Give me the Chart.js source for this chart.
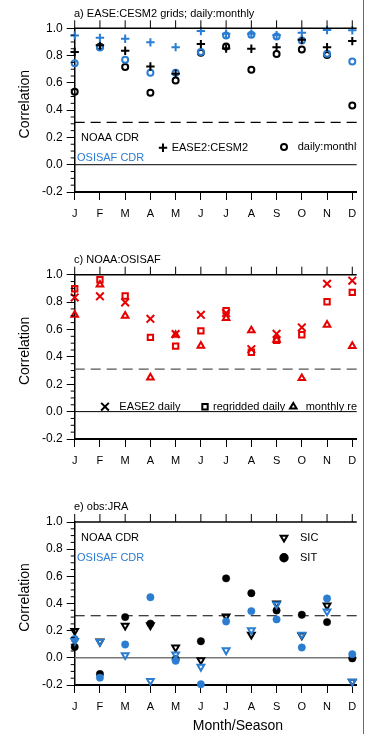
<!DOCTYPE html>
<html>
<head>
<meta charset="utf-8">
<script src="https://cdn.jsdelivr.net/npm/chart.js@4.4.1/dist/chart.umd.min.js"></script>
<style>
  html, body { margin: 0; padding: 0; background: #fff; }
  #wrap { position: relative; width: 367px; height: 734px; overflow: hidden; background: #fff; }
  #wrap canvas { position: absolute; left: 0; }
  #edge { position: absolute; left: 363px; top: 0; width: 1px; height: 734px; background: #dc3c32; }
</style>
</head>
<body>
<div id="wrap">
  <canvas id="panelA" width="367" height="245" style="top:0px"></canvas>
  <canvas id="panelC" width="367" height="245" style="top:245px"></canvas>
  <canvas id="panelE" width="367" height="244" style="top:490px"></canvas>
  <div id="edge"></div>
</div>
<script>
// ---- shared axes ----
const months = ['J', 'F', 'M', 'A', 'M', 'J', 'J', 'A', 'S', 'O', 'N', 'D'];
const yTicks = [-0.2, 0.0, 0.2, 0.4, 0.6, 0.8, 1.0];
const sigLevel = 0.31;

// ---- a) EASE:CESM2 grids; daily:monthly ----
const noaaEaseCesm      = [0.826, 0.875, 0.835, 0.720, 0.667, 0.884, 0.852, 0.850, 0.862, 0.916, 0.862, 0.906];
const osisafEaseCesm    = [0.948, 0.930, 0.923, 0.897, 0.862, 0.980, 0.960, 0.960, 0.950, 0.967, 0.987, 0.985];
const noaaDailyMonthly  = [0.535, 0.865, 0.716, 0.527, 0.618, 0.820, 0.867, 0.696, 0.811, 0.845, 0.805, 0.435];
const osisafDailyMonthly= [0.743, 0.860, 0.770, 0.674, 0.674, 0.826, 0.948, 0.952, 0.940, 0.911, 0.813, 0.757];

// ---- c) NOAA:OSISAF ----
const ease2Daily        = [0.834, 0.842, 0.798, 0.678, 0.566, 0.707, 0.720, 0.456, 0.568, 0.615, 0.934, 0.956];
const regriddedDaily    = [0.897, 0.963, 0.844, 0.542, 0.478, 0.590, 0.737, 0.434, 0.520, 0.561, 0.802, 0.871];
const monthlyRegridded  = [0.707, 0.927, 0.700, 0.249, 0.560, 0.480, 0.683, 0.593, 0.525, 0.244, 0.634, 0.478];

// ---- e) obs:JRA ----
const noaaSIC   = [0.198, 0.120, 0.237, 0.240, 0.076, -0.017, 0.305, 0.171, 0.400, 0.165, 0.385, -0.175];
const noaaSIT   = [0.080, -0.119, 0.300, 0.252, -0.010, 0.122, 0.585, 0.476, 0.349, 0.317, 0.263, -0.004];
const osisafSIC = [0.125, 0.117, 0.020, -0.170, 0.025, -0.066, 0.056, 0.203, 0.393, 0.171, 0.342, -0.175];
const osisafSIT = [0.139, -0.146, 0.098, 0.446, -0.022, -0.195, 0.268, 0.344, 0.283, 0.076, 0.437, 0.027];

const BLACK = '#000000';
const BLUE = '#2a7dd1';
const RED = '#e60000';
const FONT = "'Liberation Sans', Arial, Helvetica, sans-serif";
Chart.defaults.font.family = FONT;

const pts = arr => arr.map((v, i) => ({ x: i, y: v }));

function series(label, arr, color, style, radius, opts = {}) {
  return Object.assign({
    label,
    data: pts(arr),
    showLine: false,
    pointStyle: style,
    pointRadius: radius,
    pointHoverRadius: radius,
    pointBorderWidth: 2,
    pointBorderColor: color,
    pointBackgroundColor: 'rgba(0,0,0,0)',
    clip: false
  }, opts);
}

function hline(ctx, x0, x1, y) {
  ctx.beginPath(); ctx.moveTo(x0, y); ctx.lineTo(x1, y); ctx.stroke();
}

function text(ctx, str, x, y, size, color, align = 'left') {
  ctx.font = size + 'px ' + FONT;
  ctx.fillStyle = color;
  ctx.textAlign = align;
  ctx.textBaseline = 'middle';
  ctx.fillText(str, x, y);
}

function marker(ctx, style, x, y, radius, color, filled, rotation = 0) {
  ctx.save();
  ctx.strokeStyle = color;
  ctx.fillStyle = filled ? color : 'rgba(0,0,0,0)';
  ctx.lineWidth = 2;
  Chart.helpers.drawPoint(ctx, { pointStyle: style, radius, rotation, borderWidth: 2 }, x, y);
  ctx.restore();
}

// frame, reference lines, titles and legend for one panel
function decor(cfg) {
  return {
    id: 'decor',
    beforeDatasetsDraw(chart) {
      const { ctx, chartArea: a, scales: { y } } = chart;
      ctx.save();
      ctx.strokeStyle = cfg.zeroColor;
      ctx.lineWidth = cfg.zeroWidth;
      hline(ctx, a.left, a.right, y.getPixelForValue(0));
      ctx.setLineDash([10, 6]);
      ctx.strokeStyle = cfg.dashColor;
      ctx.lineWidth = 1.2;
      hline(ctx, a.left, a.right, y.getPixelForValue(sigLevel));
      ctx.restore();
    },
    afterDraw(chart) {
      const { ctx, chartArea: a, scales: { x, y } } = chart;
      ctx.save();
      // top border with outward month ticks
      ctx.strokeStyle = BLACK;
      ctx.lineWidth = 1.5;
      const yTop = y.getPixelForValue(1.0);
      hline(ctx, a.left - 0.75, a.right, yTop);
      ctx.lineWidth = 1;
      months.forEach((m, i) => {
        const px = x.getPixelForValue(i);
        ctx.beginPath(); ctx.moveTo(px, yTop); ctx.lineTo(px, yTop - 8); ctx.stroke();
      });
      // minor ticks on the correlation axis
      for (let k = -4; k <= 20; k++) {
        if (k % 4 === 0) continue;
        const py = y.getPixelForValue(k * 0.05);
        ctx.beginPath(); ctx.moveTo(a.left, py); ctx.lineTo(a.left - 4, py); ctx.stroke();
      }
      // panel title
      text(ctx, cfg.title, 74, cfg.titleY, 11, BLACK);
      // axis title
      ctx.save();
      ctx.translate(25, (a.top + a.bottom) / 2 - 6);
      ctx.rotate(-Math.PI / 2);
      text(ctx, 'Correlation', 0, 0, 14, BLACK, 'center');
      ctx.restore();
      // legend, clipped at the right edge of the plot
      ctx.save();
      ctx.beginPath(); ctx.rect(0, 0, 357, chart.height); ctx.clip();
      cfg.legend(ctx, chart);
      ctx.restore();
      if (cfg.after) cfg.after(ctx, chart);
      ctx.restore();
    }
  };
}

function options(padTop, padBottom) {
  return {
    responsive: false,
    animation: false,
    devicePixelRatio: 1,
    events: [],
    layout: { padding: { top: padTop, bottom: padBottom, left: 0, right: 10.3 } },
    plugins: { legend: { display: false }, tooltip: { enabled: false } },
    scales: {
      x: {
        type: 'linear', min: 0, max: 11.175,
        afterFit(s) { s.height = 30; },
        afterBuildTicks(s) { s.ticks = months.map((m, i) => ({ value: i })); },
        ticks: { callback: v => months[v] ?? '', font: { size: 11 }, color: BLACK, padding: 7, maxRotation: 0, autoSkip: false },
        grid: { display: true, drawOnChartArea: false, drawTicks: true, tickLength: 8, color: BLACK, lineWidth: 1 },
        border: { display: true, color: BLACK, width: 2 }
      },
      y: {
        min: -0.2, max: 1.0,
        afterFit(s) { s.width = 74.7; },
        afterBuildTicks(s) { s.ticks = yTicks.map(v => ({ value: v })); },
        ticks: { callback: v => (Math.abs(v) < 1e-9 ? 0 : v).toFixed(1), font: { size: 12 }, color: BLACK, padding: 4 },
        grid: { display: true, drawOnChartArea: false, drawTicks: true, tickLength: 8, color: BLACK, lineWidth: 1 },
        border: { display: true, color: BLACK, width: 1.5 }
      }
    }
  };
}

// a) EASE:CESM2 grids; daily:monthly
new Chart(document.getElementById('panelA'), {
  type: 'scatter',
  data: {
    datasets: [
      series('OSISAF EASE2:CESM2', osisafEaseCesm, BLUE, 'cross', 4.2),
      series('NOAA EASE2:CESM2', noaaEaseCesm, BLACK, 'cross', 4.2),
      series('OSISAF daily:monthly', osisafDailyMonthly, BLUE, 'circle', 3),
      series('NOAA daily:monthly', noaaDailyMonthly, BLACK, 'circle', 3)
    ]
  },
  options: options(28.3, 23),
  plugins: [decor({
    title: 'a) EASE:CESM2 grids; daily:monthly', titleY: 13.5,
    zeroColor: BLACK, zeroWidth: 1, dashColor: BLACK,
    legend(ctx) {
      text(ctx, 'NOAA CDR', 81, 137.7, 11, BLACK);
      text(ctx, 'OSISAF CDR', 77, 157.7, 11, BLUE);
      marker(ctx, 'cross', 163, 147.7, 4.2, BLACK, false);
      text(ctx, 'EASE2:CESM2', 171.7, 147.7, 11, BLACK);
      marker(ctx, 'circle', 284, 147, 3, BLACK, false);
      text(ctx, 'daily:monthly', 297.7, 147, 11, BLACK);
    }
  })]
});

// c) NOAA:OSISAF
new Chart(document.getElementById('panelC'), {
  type: 'scatter',
  data: {
    datasets: [
      series('EASE2 daily', ease2Daily, RED, 'crossRot', 5.4),
      series('regridded daily', regriddedDaily, RED, 'rect', 3.8),
      series('monthly regridded', monthlyRegridded, RED, 'triangle', 3.8)
    ]
  },
  options: options(29.7, 21),
  plugins: [decor({
    title: 'c) NOAA:OSISAF', titleY: 15,
    zeroColor: BLACK, zeroWidth: 1, dashColor: '#555555',
    legend(ctx) {
      marker(ctx, 'crossRot', 105, 161.7, 5.4, BLACK, false);
      text(ctx, 'EASE2 daily', 119.3, 161.7, 11, BLACK);
      marker(ctx, 'rect', 205, 161.7, 3.8, BLACK, false);
      text(ctx, 'regridded daily', 213, 161.7, 11, BLACK);
      marker(ctx, 'triangle', 293.3, 161.7, 3.8, BLACK, false);
      text(ctx, 'monthly regridded', 305.7, 161.7, 11, BLACK);
    }
  })]
});

// e) obs:JRA
new Chart(document.getElementById('panelE'), {
  type: 'scatter',
  data: {
    datasets: [
      series('OSISAF SIC', osisafSIC, BLUE, 'triangle', 3.9, { pointRotation: 180 }),
      series('OSISAF SIT', osisafSIT, BLUE, 'circle', 3.7, { pointBackgroundColor: BLUE, pointBorderWidth: 0.5 }),
      series('NOAA SIC', noaaSIC, BLACK, 'triangle', 3.9, { pointRotation: 180 }),
      series('NOAA SIT', noaaSIT, BLACK, 'circle', 3.7, { pointBackgroundColor: BLACK, pointBorderWidth: 0.5 })
    ]
  },
  options: options(32, 19),
  plugins: [decor({
    title: 'e) obs:JRA', titleY: 16.7,
    zeroColor: '#777777', zeroWidth: 1.5, dashColor: BLACK,
    legend(ctx) {
      text(ctx, 'NOAA CDR', 81, 47.7, 11, BLACK);
      text(ctx, 'OSISAF CDR', 77, 67.7, 11, BLUE);
      marker(ctx, 'triangle', 284, 47.7, 3.9, BLACK, false, 180);
      text(ctx, 'SIC', 300, 47.7, 11, BLACK);
      marker(ctx, 'circle', 284, 67.7, 3.7, BLACK, true);
      text(ctx, 'SIT', 300, 67.7, 11, BLACK);
    },
    after(ctx) {
      text(ctx, 'Month/Season', 238, 236, 14, BLACK, 'center');
    }
  })]
});
</script>
</body>
</html>
